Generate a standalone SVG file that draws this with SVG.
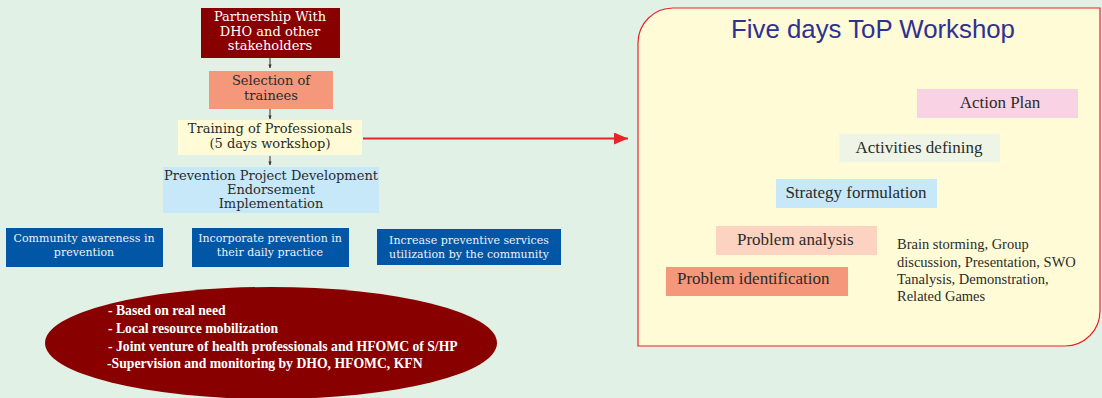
<svg xmlns="http://www.w3.org/2000/svg" width="1102" height="398" viewBox="0 0 1102 398">
<defs>
<style>
.s{font-family:"Liberation Serif","Times New Roman",serif;}
.c{font-family:"DejaVu Serif","Liberation Serif",serif;}
.w{fill:#ffffff;}
.d{fill:#2b2b2b;}
.bt{fill:#eef2fa;font-size:11px;}
.el{font-family:"Liberation Serif","Times New Roman",serif;font-weight:bold;font-size:13.7px;fill:#ffffff;}
.ws{font-size:17px;fill:#2b2b2b;}
.blue{fill:#0256a6;}
</style>
<marker id="ah" viewBox="0 0 10 10" refX="9" refY="5" markerWidth="4" markerHeight="4" orient="auto"><path d="M0,1 L10,5 L0,9 z" fill="#333"/></marker>
<marker id="rh" viewBox="0 0 14 12" refX="14" refY="6" markerWidth="14" markerHeight="12" markerUnits="userSpaceOnUse" orient="auto"><path d="M0,0 L14,6 L0,12 z" fill="#e8232a"/></marker>
</defs>
<rect width="1102" height="398" fill="#e2f1e5"/>

<g id="connectors">
<line x1="270" y1="58" x2="270" y2="68" stroke="#333" stroke-width="1" marker-end="url(#ah)"/>
<line x1="270" y1="109" x2="270" y2="119" stroke="#333" stroke-width="1" marker-end="url(#ah)"/>
<line x1="270" y1="156" x2="270" y2="165" stroke="#333" stroke-width="1" marker-end="url(#ah)"/>
<line x1="363" y1="138.5" x2="628" y2="138.5" stroke="#e8232a" stroke-width="2" marker-end="url(#rh)"/>
</g>

<g id="partnership">
<rect x="201" y="8" width="139" height="50" fill="#880000"/>
<text class="c w" font-size="13" text-anchor="middle"><tspan x="270" y="21">Partnership With</tspan><tspan x="270" y="36">DHO and other</tspan><tspan x="270" y="50">stakeholders</tspan></text>
</g>
<g id="selection">
<rect x="209" y="71" width="124" height="38" fill="#f4977a"/>
<text class="c d" font-size="13" text-anchor="middle"><tspan x="271" y="85">Selection of</tspan><tspan x="271" y="100">trainees</tspan></text>
</g>
<g id="training">
<rect x="178" y="120" width="184" height="35" fill="#fffbd6"/>
<text class="c d" font-size="13" text-anchor="middle"><tspan x="270" y="133">Training of Professionals</tspan><tspan x="270" y="148">(5 days workshop)</tspan></text>
</g>
<g id="prevention">
<rect x="163" y="167" width="216" height="46" fill="#c6e8f8"/>
<text class="c d" font-size="13" text-anchor="middle"><tspan x="271" y="180">Prevention Project Development</tspan><tspan x="271" y="194">Endorsement</tspan><tspan x="271" y="208">Implementation</tspan></text>
</g>

<g id="community">
<rect class="blue" x="6" y="228" width="157" height="39"/>
<text class="c bt" text-anchor="middle"><tspan x="84" y="242">Community awareness in</tspan><tspan x="84" y="256">prevention</tspan></text>
</g>
<g id="incorporate">
<rect class="blue" x="192" y="228" width="157" height="39"/>
<text class="c bt" text-anchor="middle"><tspan x="270" y="242">Incorporate prevention in</tspan><tspan x="270" y="256">their daily practice</tspan></text>
</g>
<g id="increase">
<rect class="blue" x="377" y="229" width="184" height="36"/>
<text class="c bt" text-anchor="middle"><tspan x="469" y="244">Increase preventive services</tspan><tspan x="469" y="258">utilization by the community</tspan></text>
</g>

<g id="principles">
<ellipse cx="271" cy="343" rx="226" ry="56" fill="#880000"/>
<text class="el"><tspan x="108" y="315">- Based on real need</tspan><tspan x="108" y="333">- Local resource mobilization</tspan><tspan x="108" y="351">- Joint venture of health professionals and HFOMC of S/HP</tspan><tspan x="107" y="368">-Supervision and monitoring by DHO, HFOMC, KFN</tspan></text>
</g>

<g id="workshop">
<path d="M673,8 H1100 V311 A35,35 0 0 1 1065,346 H638 V43 A35,35 0 0 1 673,8 Z" fill="#fffbd6" stroke="#e8232a" stroke-width="1.2"/>
<text x="873" y="38" font-family="'Liberation Sans',Arial,sans-serif" font-size="25.8" fill="#2e3192" text-anchor="middle">Five days ToP Workshop</text>
</g>
<g id="action-plan">
<rect x="917" y="89" width="161" height="29" fill="#f9d3e3"/>
<text class="s ws" x="1000" y="108" text-anchor="middle">Action Plan</text>
</g>
<g id="activities">
<rect x="839" y="134" width="161" height="28" fill="#eef5e6"/>
<text class="s ws" x="919" y="153" text-anchor="middle">Activities defining</text>
</g>
<g id="strategy">
<rect x="776" y="179" width="161" height="29" fill="#c6e8f8"/>
<text class="s ws" x="856" y="198" text-anchor="middle">Strategy formulation</text>
</g>
<g id="analysis">
<rect x="716" y="226" width="161" height="29" fill="#fcd2c0"/>
<text class="s ws" x="737" y="245">Problem analysis</text>
</g>
<g id="identification">
<rect x="666" y="267" width="182" height="29" fill="#f4977a"/>
<text class="s ws" x="677" y="284">Problem identification</text>
</g>
<g id="methods">
<text class="s d" font-size="14.5"><tspan x="897" y="249">Brain storming, Group</tspan><tspan x="897" y="267">discussion, Presentation, SWO</tspan><tspan x="897" y="284">Tanalysis, Demonstration,</tspan><tspan x="897" y="301">Related Games</tspan></text>
</g>
</svg>
